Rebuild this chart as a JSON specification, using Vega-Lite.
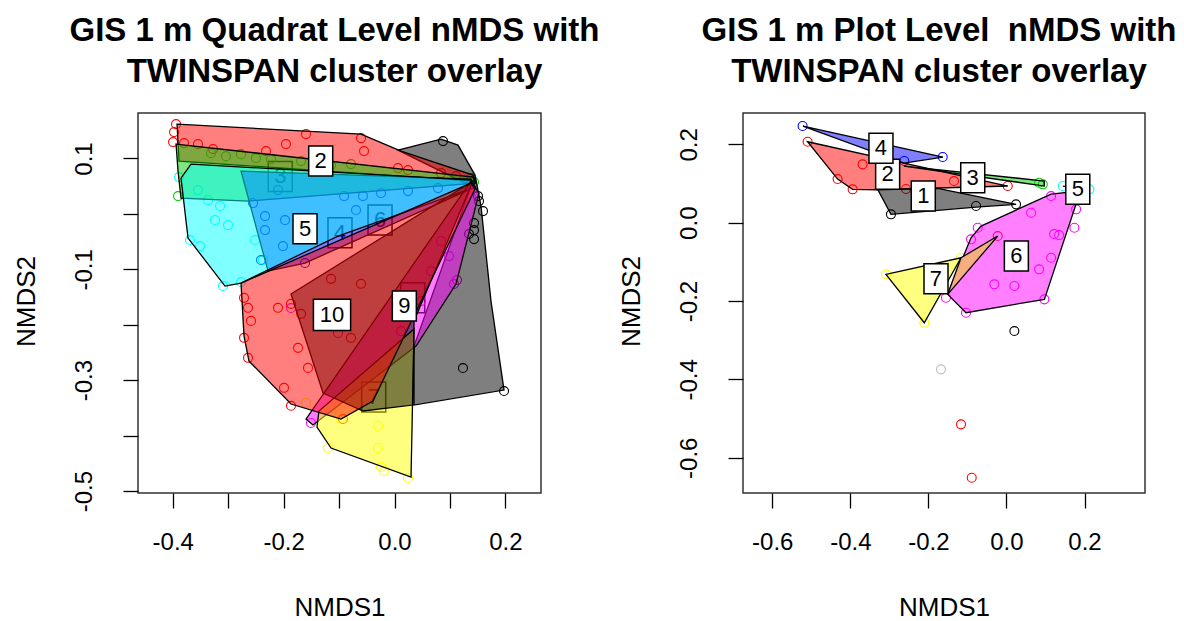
{
  "$schema": "https://vega.github.io/schema/vega-lite/v6.json",
  "padding": {"left": 12, "top": 14, "right": 10, "bottom": 12},
  "background": "white",
  "config": {
    "view": {"stroke": "#333333", "strokeWidth": 1.5},
    "font": "Liberation Sans",
    "axis": {"domain": false, "grid": false, "ticks": true, "tickSize": 15, "tickWidth": 1.3, "tickColor": "#000000", "labelFont": "Liberation Sans", "labelFontSize": 24, "labelColor": "#000000", "labelFlush": false, "labelOverlap": false, "labelBound": false, "titleFont": "Liberation Sans", "titleFontSize": 26, "titleFontWeight": "normal", "titleColor": "#000000"},
    "axisX": {"labelAngle": 0, "labelPadding": 41, "labelBaseline": "alphabetic", "labelAlign": "center", "titleY": 122, "titleBaseline": "alphabetic", "titleAlign": "center"},
    "axisY": {"labelAngle": 270, "labelAlign": "center", "labelBaseline": "alphabetic", "labelPadding": 32, "titleAngle": 270, "titleX": -104, "titleY": 188, "titleAlign": "center", "titleBaseline": "alphabetic"},
    "title": {"font": "Liberation Sans", "fontSize": 33, "fontWeight": "bold", "color": "#000000", "anchor": "middle", "dx": -5, "baseline": "bottom", "lineHeight": 41, "offset": 24}
  },
  "datasets": {
    "hullL": [
      {"c":"1","o":1,"x":0.0063,"y":0.1151},{"c":"1","o":2,"x":0.0839,"y":0.1349},{"c":"1","o":3,"x":0.1145,"y":0.1241},{"c":"1","o":4,"x":0.1452,"y":0.0700},{"c":"1","o":5,"x":0.1560,"y":0.0141},{"c":"1","o":6,"x":0.1740,"y":-0.1573},{"c":"1","o":7,"x":0.1975,"y":-0.3178},{"c":"1","o":8,"x":0.0352,"y":-0.3448},{"c":"1","o":9,"x":0.0352,"y":-0.2384},{"c":"1","o":10,"x":0.1380,"y":0.0501},
      {"c":"2","o":1,"x":-0.3922,"y":0.1619},{"c":"2","o":2,"x":-0.0604,"y":0.1439},{"c":"2","o":3,"x":0.0117,"y":0.1133},{"c":"2","o":4,"x":0.1416,"y":0.0700},{"c":"2","o":5,"x":0.1452,"y":0.0592},{"c":"2","o":6,"x":-0.3886,"y":0.0952},
      {"c":"3","o":1,"x":-0.3940,"y":0.1259},{"c":"3","o":2,"x":0.1416,"y":0.0664},{"c":"3","o":3,"x":0.1452,"y":0.0555},{"c":"3","o":4,"x":-0.2642,"y":0.0231},{"c":"3","o":5,"x":-0.3850,"y":0.0285},{"c":"3","o":6,"x":-0.3904,"y":0.0772},
      {"c":"4","o":1,"x":-0.2768,"y":0.0772},{"c":"4","o":2,"x":0.1380,"y":0.0628},{"c":"4","o":3,"x":0.1452,"y":0.0483},{"c":"4","o":4,"x":-0.1614,"y":-0.0887},{"c":"4","o":5,"x":-0.2281,"y":-0.1032},
      {"c":"5","o":1,"x":-0.3670,"y":0.0898},{"c":"5","o":2,"x":0.1380,"y":0.0610},{"c":"5","o":3,"x":0.1452,"y":0.0483},{"c":"5","o":4,"x":-0.1019,"y":-0.0400},{"c":"5","o":5,"x":-0.2768,"y":-0.1248},{"c":"5","o":6,"x":-0.3057,"y":-0.1302},{"c":"5","o":7,"x":-0.3724,"y":-0.0436},{"c":"5","o":8,"x":-0.3850,"y":0.0646},
      {"c":"6","o":1,"x":0.1380,"y":0.0592},{"c":"6","o":2,"x":0.1524,"y":0.0375},{"c":"6","o":3,"x":0.1109,"y":-0.1266},{"c":"6","o":4,"x":0.0388,"y":-0.2384},{"c":"6","o":5,"x":-0.1470,"y":-0.3809},{"c":"6","o":6,"x":-0.1596,"y":-0.3701},
      {"c":"7","o":1,"x":0.0352,"y":-0.2077},{"c":"7","o":2,"x":0.0298,"y":-0.4747},{"c":"7","o":3,"x":-0.1145,"y":-0.4224},{"c":"7","o":4,"x":-0.1398,"y":-0.3845},{"c":"7","o":5,"x":-0.1362,"y":-0.3556},
      {"c":"9","o":1,"x":0.1416,"y":0.0592},{"c":"9","o":2,"x":0.0352,"y":-0.1933},{"c":"9","o":3,"x":0.0334,"y":-0.3448},{"c":"9","o":4,"x":-0.0568,"y":-0.3556},{"c":"9","o":5,"x":-0.1289,"y":-0.3232},{"c":"9","o":6,"x":-0.1867,"y":-0.1446},
      {"c":"10","o":1,"x":-0.2768,"y":-0.1248},{"c":"10","o":2,"x":0.1380,"y":0.0555},{"c":"10","o":3,"x":0.1452,"y":0.0447},{"c":"10","o":4,"x":-0.0388,"y":-0.3376},{"c":"10","o":5,"x":-0.0965,"y":-0.3701},{"c":"10","o":6,"x":-0.1867,"y":-0.3430},{"c":"10","o":7,"x":-0.2624,"y":-0.2655},{"c":"10","o":8,"x":-0.2714,"y":-0.2204}
    ],
    "ptsL": [
      {"c":"2","x":-0.3940,"y":0.1619},{"c":"2","x":-0.3976,"y":0.1475},{"c":"2","x":-0.3994,"y":0.1295},{"c":"2","x":-0.3796,"y":0.1277},{"c":"2","x":-0.3544,"y":0.1259},{"c":"2","x":-0.3273,"y":0.1169},{"c":"2","x":-0.2317,"y":0.1133},{"c":"2","x":-0.1957,"y":0.1259},{"c":"2","x":-0.1596,"y":0.1439},{"c":"2","x":-0.0604,"y":0.1367},{"c":"2","x":-0.0550,"y":0.1133},{"c":"2","x":0.0063,"y":0.0826},{"c":"2","x":0.0243,"y":0.0790},{"c":"2","x":0.0839,"y":0.0736},{"c":"2","x":0.1109,"y":0.0682},
      {"c":"3","x":-0.3904,"y":0.0321},{"c":"3","x":-0.3309,"y":0.1096},{"c":"3","x":-0.3039,"y":0.1042},{"c":"3","x":-0.2768,"y":0.1078},{"c":"3","x":-0.2498,"y":0.1006},{"c":"3","x":-0.2227,"y":0.0988},{"c":"3","x":-0.1686,"y":0.0952},{"c":"3","x":-0.1145,"y":0.0880},{"c":"3","x":-0.0785,"y":0.0898},{"c":"3","x":0.1380,"y":0.0646},{"c":"3","x":0.1434,"y":0.0574},
      {"c":"5","x":-0.3886,"y":0.0664},{"c":"5","x":-0.3688,"y":-0.0472},{"c":"5","x":-0.3508,"y":-0.0581},{"c":"5","x":-0.3093,"y":-0.1302},{"c":"5","x":-0.2768,"y":-0.1230},{"c":"5","x":-0.3237,"y":-0.0112},{"c":"5","x":-0.3003,"y":-0.0202},{"c":"5","x":-0.3147,"y":0.0141},{"c":"5","x":-0.3363,"y":0.0249},{"c":"5","x":-0.3544,"y":0.0429},{"c":"5","x":-0.2516,"y":-0.0472},{"c":"5","x":-0.2372,"y":-0.0833},
      {"c":"4","x":-0.2335,"y":-0.0040},{"c":"4","x":-0.1975,"y":-0.0112},{"c":"4","x":-0.2335,"y":-0.0292},{"c":"4","x":-0.2011,"y":-0.0581},{"c":"4","x":-0.2408,"y":-0.0833},{"c":"4","x":-0.2552,"y":0.0195},{"c":"4","x":-0.2101,"y":0.0429},{"c":"4","x":-0.0909,"y":0.0321},{"c":"4","x":-0.0694,"y":0.0069},{"c":"4","x":-0.0568,"y":0.0321},{"c":"4","x":-0.0243,"y":0.0375},{"c":"4","x":0.0243,"y":0.0411},{"c":"4","x":0.0784,"y":0.0465},{"c":"4","x":-0.1614,"y":-0.0887},
      {"c":"1","x":0.0875,"y":0.1313},{"c":"1","x":0.1506,"y":0.0321},{"c":"1","x":0.1596,"y":0.0050},{"c":"1","x":0.1524,"y":0.0231},{"c":"1","x":0.1434,"y":-0.0166},{"c":"1","x":0.1434,"y":-0.0292},{"c":"1","x":0.1434,"y":-0.0455},{"c":"1","x":0.1344,"y":-0.0364},{"c":"1","x":0.1235,"y":-0.2781},{"c":"1","x":0.1975,"y":-0.3196},{"c":"1","x":0.1380,"y":0.0592},
      {"c":"6","x":0.1073,"y":-0.1266},{"c":"6","x":0.1127,"y":-0.1194},{"c":"6","x":-0.1506,"y":-0.3773},{"c":"6","x":-0.1867,"y":-0.1699},{"c":"6","x":-0.1019,"y":-0.2150},{"c":"6","x":0.0839,"y":-0.0491},{"c":"6","x":0.0983,"y":-0.0761},{"c":"6","x":0.0658,"y":-0.1032},{"c":"6","x":0.0478,"y":-0.1573},{"c":"6","x":0.0117,"y":-0.2114},
      {"c":"7","x":-0.1199,"y":-0.4224},{"c":"7","x":-0.0298,"y":-0.3827},{"c":"7","x":-0.0298,"y":-0.4224},{"c":"7","x":-0.0243,"y":-0.4567},{"c":"7","x":-0.0189,"y":-0.4639},{"c":"7","x":0.0243,"y":-0.4765},{"c":"7","x":-0.1596,"y":-0.3412},{"c":"7","x":-0.0965,"y":-0.3701},
      {"c":"10","x":-0.2714,"y":-0.1515},{"c":"10","x":-0.2642,"y":-0.1695},{"c":"10","x":-0.2588,"y":-0.1930},{"c":"10","x":-0.2714,"y":-0.2236},{"c":"10","x":-0.2642,"y":-0.2597},{"c":"10","x":-0.1740,"y":-0.2417},{"c":"10","x":-0.1560,"y":-0.2778},{"c":"10","x":-0.1993,"y":-0.3138},{"c":"10","x":-0.1867,"y":-0.3462},{"c":"10","x":-0.2101,"y":-0.1695},{"c":"10","x":-0.1867,"y":-0.1623},{"c":"10","x":-0.1686,"y":-0.1803},{"c":"10","x":-0.0785,"y":-0.2236},{"c":"10","x":-0.1145,"y":-0.1172},{"c":"10","x":-0.0604,"y":-0.1262},{"c":"10","x":-0.0929,"y":-0.3701}
    ],
    "labL": [
      {"t":"1","w":"s","cov":1,"x":0.0328,"y":-0.1513},
      {"t":"3","w":"s","cov":1,"x":-0.2060,"y":0.0676},
      {"t":"4","w":"s","cov":1,"x":-0.0983,"y":-0.0341},
      {"t":"6","w":"s","cov":1,"x":-0.0261,"y":-0.0112},
      {"t":"7","w":"s","cov":1,"x":-0.0375,"y":-0.3304},
      {"t":"2","w":"s","cov":0,"x":-0.1331,"y":0.0952},
      {"t":"5","w":"s","cov":0,"x":-0.1614,"y":-0.0269},
      {"t":"9","w":"s","cov":0,"x":0.0177,"y":-0.1663},
      {"t":"10","w":"d","cov":0,"x":-0.1127,"y":-0.1820}
    ],
    "hullR": [
      {"c":"1","o":1,"x":-0.3300,"y":0.0851},{"c":"1","o":2,"x":-0.1762,"y":0.0877},{"c":"1","o":3,"x":0.0246,"y":0.0468},{"c":"1","o":4,"x":-0.0779,"y":0.0399},{"c":"1","o":5,"x":-0.2959,"y":0.0213},
      {"c":"2","o":1,"x":-0.5095,"y":0.2066},{"c":"2","o":2,"x":-0.2626,"y":0.1523},{"c":"2","o":3,"x":0.0033,"y":0.0936},{"c":"2","o":4,"x":-0.3300,"y":0.0841},{"c":"2","o":5,"x":-0.3941,"y":0.0851},{"c":"2","o":6,"x":-0.4326,"y":0.1114},
      {"c":"3","o":1,"x":-0.2626,"y":0.1446},{"c":"3","o":2,"x":0.0972,"y":0.1063},{"c":"3","o":3,"x":0.0972,"y":0.0936},
      {"c":"4","o":1,"x":-0.5215,"y":0.2467},{"c":"4","o":2,"x":-0.1626,"y":0.1676},{"c":"4","o":3,"x":-0.2626,"y":0.1523},
      {"c":"5","o":1,"x":0.1444,"y":0.0936},{"c":"5","o":2,"x":0.2126,"y":0.0851},
      {"c":"6","o":1,"x":0.1144,"y":0.0731},{"c":"6","o":2,"x":0.1862,"y":0.0808},{"c":"6","o":3,"x":0.1810,"y":0.0553},{"c":"6","o":4,"x":0.0972,"y":-0.1957},{"c":"6","o":5,"x":-0.1036,"y":-0.2299},{"c":"6","o":6,"x":-0.1505,"y":-0.1829},{"c":"6","o":7,"x":-0.0908,"y":-0.0384},{"c":"6","o":8,"x":-0.0651,"y":-0.0086},
      {"c":"7","o":1,"x":-0.3087,"y":-0.1318},{"c":"7","o":2,"x":-0.1164,"y":-0.0895},{"c":"7","o":3,"x":-0.2105,"y":-0.2554},
      {"c":"o","o":1,"x":-0.1164,"y":-0.0895},{"c":"o","o":2,"x":-0.0223,"y":-0.0341},{"c":"o","o":3,"x":-0.1505,"y":-0.1829}
    ],
    "ptsR": [
      {"c":"4","x":-0.5223,"y":0.2468},{"c":"4","x":-0.1633,"y":0.1676},{"c":"4","x":-0.2618,"y":0.1574},
      {"c":"2","x":-0.5095,"y":0.2066},{"c":"2","x":-0.4326,"y":0.1114},{"c":"2","x":-0.3941,"y":0.0851},{"c":"2","x":-0.3685,"y":0.1489},{"c":"2","x":-0.2574,"y":0.0859},{"c":"2","x":-0.1344,"y":0.1063},{"c":"2","x":0.0033,"y":0.0936},{"c":"2","x":-0.0223,"y":-0.0341},{"c":"2","x":-0.1164,"y":-0.5148},{"c":"2","x":-0.0890,"y":-0.6511},
      {"c":"1","x":-0.2959,"y":0.0213},{"c":"1","x":-0.0779,"y":0.0425},{"c":"1","x":0.0246,"y":0.0468},{"c":"1","x":0.0203,"y":-0.2766},
      {"c":"3","x":0.0836,"y":0.1020},{"c":"3","x":0.0931,"y":0.0979},
      {"c":"5","x":0.1444,"y":0.0936},{"c":"5","x":0.2126,"y":0.0851},
      {"c":"6","x":-0.0736,"y":-0.0129},{"c":"6","x":-0.0908,"y":-0.0425},{"c":"6","x":0.0631,"y":0.0254},{"c":"6","x":0.1144,"y":0.0680},{"c":"6","x":0.1785,"y":0.0341},{"c":"6","x":0.1741,"y":-0.0129},{"c":"6","x":0.1221,"y":-0.0290},{"c":"6","x":0.1349,"y":-0.0316},{"c":"6","x":0.1144,"y":-0.0895},{"c":"6","x":0.0836,"y":-0.1191},{"c":"6","x":-0.0310,"y":-0.1574},{"c":"6","x":0.0203,"y":-0.1617},{"c":"6","x":0.0972,"y":-0.1957},{"c":"6","x":-0.1036,"y":-0.2299},{"c":"6","x":-0.1549,"y":-0.1916},
      {"c":"7","x":-0.3087,"y":-0.1318},{"c":"7","x":-0.1164,"y":-0.0895},{"c":"7","x":-0.2105,"y":-0.2554},
      {"c":"8","x":-0.1677,"y":-0.3744}
    ],
    "labR": [
      {"t":"1","w":"s","x":-0.2131,"y":0.0680},
      {"t":"2","w":"s","x":-0.3044,"y":0.1234},
      {"t":"3","w":"s","x":-0.0864,"y":0.1147},
      {"t":"4","w":"s","x":-0.3215,"y":0.1898},
      {"t":"5","w":"s","x":0.1828,"y":0.0851},
      {"t":"6","w":"s","x":0.0254,"y":-0.0851},
      {"t":"7","w":"s","x":-0.1805,"y":-0.1431}
    ]
  },
  "spacing": 202,
  "bounds": "flush",
  "resolve": {"scale": {"x": "independent", "y": "independent", "color": "independent", "fill": "independent", "shape": "independent", "fillOpacity": "independent"}},
  "hconcat": [
    {
      "width": 403,
      "height": 380,
      "title": {"text": ["GIS 1 m Quadrat Level nMDS with", "TWINSPAN cluster overlay"]},
      "encoding": {
        "x": {"field": "x", "type": "quantitative", "scale": {"domain": [-0.4626, 0.2642], "nice": false, "zero": false},
          "axis": {"title": "NMDS1", "values": [-0.4, -0.3, -0.2, -0.1, 0, 0.1, 0.2], "labelExpr": "indexof([-0.4, -0.2, 0, 0.2], datum.value) < 0 ? '' : (datum.value < 0 ? '-' : '') + format(abs(datum.value), '.1f')"}},
        "y": {"field": "y", "type": "quantitative", "scale": {"domain": [-0.5035, 0.182], "nice": false, "zero": false},
          "axis": {"title": "NMDS2", "values": [-0.5, -0.4, -0.3, -0.2, -0.1, 0, 0.1], "labelExpr": "indexof([0.1, -0.1, -0.3, -0.5], datum.value) < 0 ? '' : (datum.value < 0 ? '-' : '') + format(abs(datum.value), '.1f')"}}
      },
      "layer": [
        {"data": {"name": "labL"}, "transform": [{"filter": "datum.cov == 1"}],
         "mark": {"type": "point", "filled": true, "fill": "white", "stroke": "black", "strokeWidth": 1.5, "size": 576, "opacity": 1},
         "encoding": {"shape": {"field": "w", "type": "nominal", "scale": {"domain": ["s", "d"], "range": ["M-1,-1.25H1V1.25H-1Z", "M-1.55,-1.3H1.55V1.3H-1.55Z"]}, "legend": null}}},
        {"data": {"name": "labL"}, "transform": [{"filter": "datum.cov == 1"}],
         "mark": {"type": "text", "fontSize": 22, "font": "Liberation Sans", "color": "black", "align": "center", "baseline": "middle"},
         "encoding": {"text": {"field": "t", "type": "nominal"}}},
        {"data": {"name": "ptsL"},
         "mark": {"type": "point", "shape": "circle", "size": 80, "strokeWidth": 1.1, "opacity": 1, "filled": false},
         "encoding": {"color": {"field": "c", "type": "nominal", "scale": {"domain": ["1","2","3","4","5","6","7","9","10"], "range": ["#000000","#FF0000","#00CD00","#0000FF","#00FFFF","#FF00FF","#FFFF00","#000000","#FF0000"]}, "legend": null}}},
        {"data": {"name": "hullL"},
         "mark": {"type": "line", "interpolate": "linear-closed", "stroke": "black", "strokeWidth": 1.3, "fillOpacity": 0.5},
         "encoding": {"order": {"field": "o", "type": "quantitative"}, "detail": {"field": "c", "type": "nominal"},
           "fill": {"field": "c", "type": "nominal", "scale": {"domain": ["1","2","3","4","5","6","7","9","10"], "range": ["#000000","#FF0000","#00CD00","#0000FF","#00FFFF","#FF00FF","#FFFF00","#000000","#FF0000"]}, "legend": null}}},
        {"data": {"name": "labL"}, "transform": [{"filter": "datum.cov == 0"}],
         "mark": {"type": "point", "filled": true, "fill": "white", "stroke": "black", "strokeWidth": 1.5, "size": 576, "opacity": 1},
         "encoding": {"shape": {"field": "w", "type": "nominal", "scale": {"domain": ["s", "d"], "range": ["M-1,-1.25H1V1.25H-1Z", "M-1.55,-1.3H1.55V1.3H-1.55Z"]}, "legend": null}}},
        {"data": {"name": "labL"}, "transform": [{"filter": "datum.cov == 0"}],
         "mark": {"type": "text", "fontSize": 22, "font": "Liberation Sans", "color": "black", "align": "center", "baseline": "middle"},
         "encoding": {"text": {"field": "t", "type": "nominal"}}}
      ]
    },
    {
      "width": 402,
      "height": 380,
      "title": {"text": ["GIS 1 m Plot Level\u00a0 nMDS with", "TWINSPAN cluster overlay"]},
      "encoding": {
        "x": {"field": "x", "type": "quantitative", "scale": {"domain": [-0.675, 0.355], "nice": false, "zero": false},
          "axis": {"title": "NMDS1", "values": [-0.6, -0.4, -0.2, 0, 0.2], "labelExpr": "(datum.value < 0 ? '-' : '') + format(abs(datum.value), '.1f')"}},
        "y": {"field": "y", "type": "quantitative", "scale": {"domain": [-0.69, 0.28], "nice": false, "zero": false},
          "axis": {"title": "NMDS2", "values": [-0.6, -0.4, -0.2, 0, 0.2], "labelExpr": "(datum.value < 0 ? '-' : '') + format(abs(datum.value), '.1f')"}}
      },
      "layer": [
        {"data": {"name": "ptsR"},
         "mark": {"type": "point", "shape": "circle", "size": 80, "strokeWidth": 1.1, "opacity": 1, "filled": false},
         "encoding": {"color": {"field": "c", "type": "nominal", "scale": {"domain": ["1","2","3","4","5","6","7","8"], "range": ["#000000","#FF0000","#00CD00","#0000FF","#00FFFF","#FF00FF","#FFFF00","#BEBEBE"]}, "legend": null}}},
        {"data": {"name": "hullR"},
         "mark": {"type": "line", "interpolate": "linear-closed", "stroke": "black", "strokeWidth": 1.3},
         "encoding": {"order": {"field": "o", "type": "quantitative"}, "detail": {"field": "c", "type": "nominal"},
           "fill": {"field": "c", "type": "nominal", "scale": {"domain": ["1","2","3","4","5","6","7","o"], "range": ["#000000","#FF0000","#00CD00","#0000FF","#00FFFF","#FF00FF","#FFFF00","#F6B07A"]}, "legend": null},
           "fillOpacity": {"condition": {"test": "datum.c == 'o'", "value": 0.95}, "value": 0.5}}},
        {"data": {"name": "labR"},
         "mark": {"type": "point", "filled": true, "fill": "white", "stroke": "black", "strokeWidth": 1.5, "size": 576, "opacity": 1},
         "encoding": {"shape": {"field": "w", "type": "nominal", "scale": {"domain": ["s", "d"], "range": ["M-1,-1.25H1V1.25H-1Z", "M-1.55,-1.3H1.55V1.3H-1.55Z"]}, "legend": null}}},
        {"data": {"name": "labR"},
         "mark": {"type": "text", "fontSize": 22, "font": "Liberation Sans", "color": "black", "align": "center", "baseline": "middle"},
         "encoding": {"text": {"field": "t", "type": "nominal"}}}
      ]
    }
  ]
}
